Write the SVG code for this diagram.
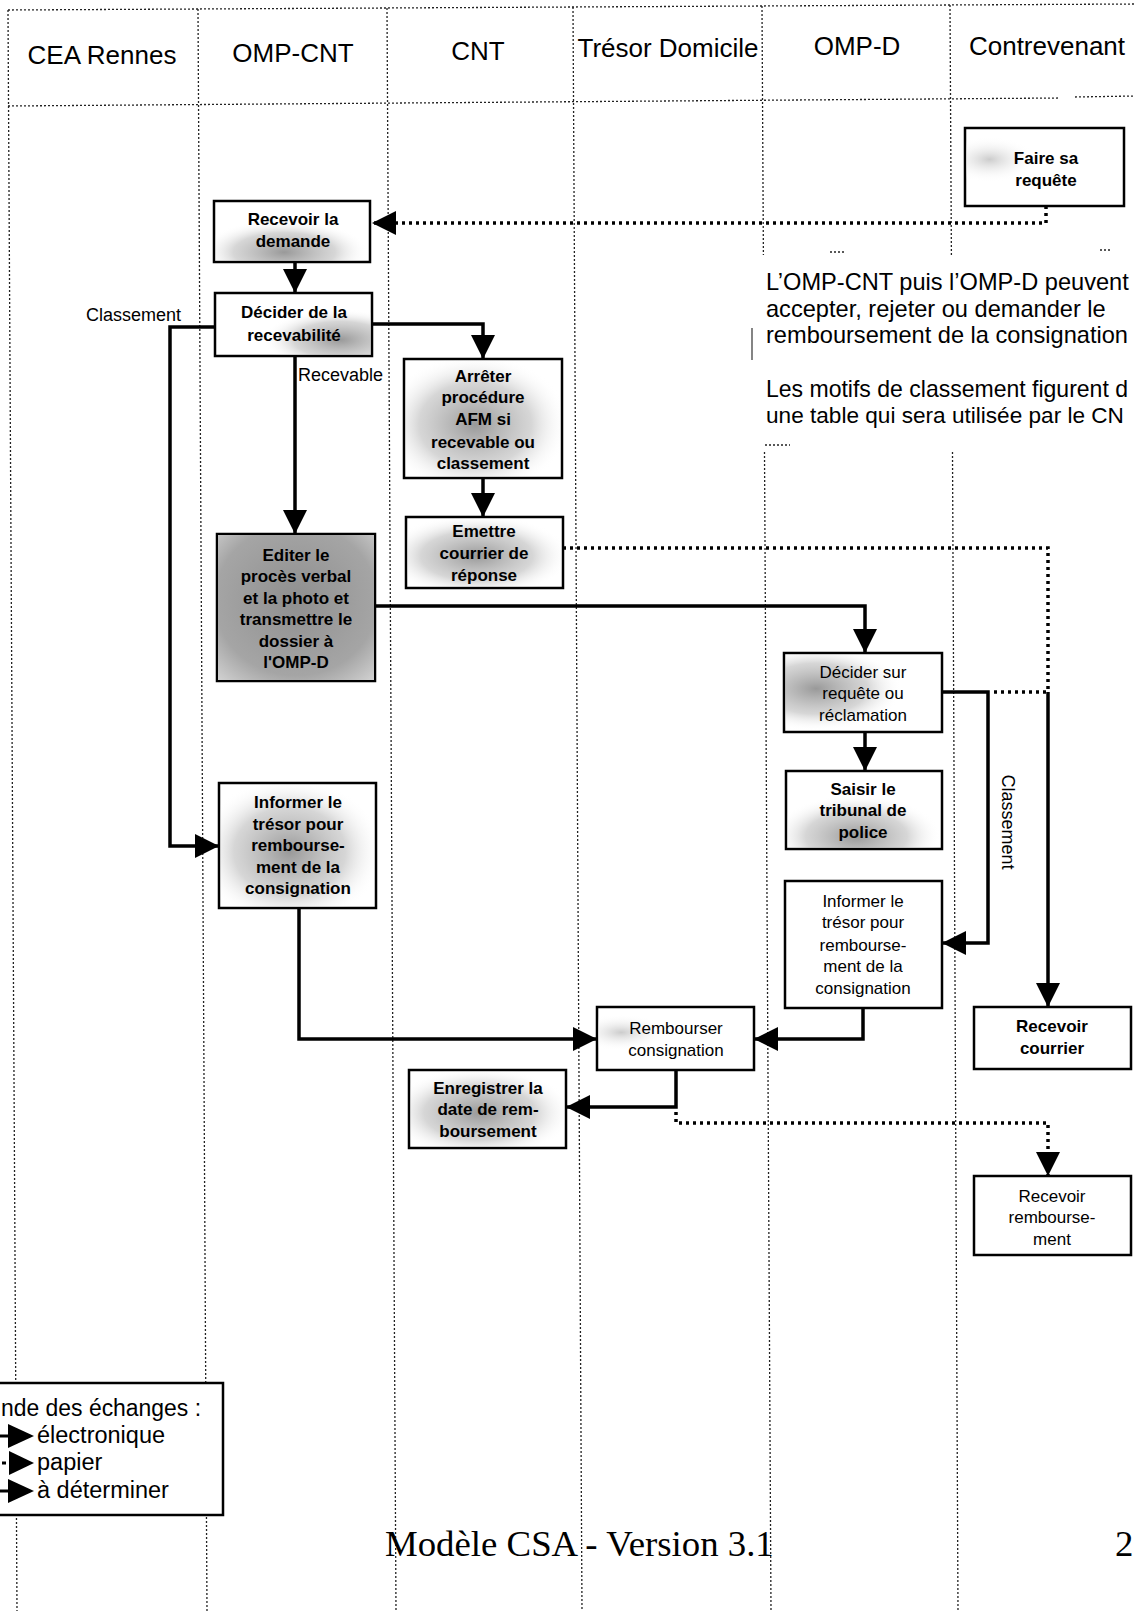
<svg xmlns="http://www.w3.org/2000/svg" width="1135" height="1611" viewBox="0 0 1135 1611">
<style>
.lane{stroke:#222;stroke-width:1.3;stroke-dasharray:2 2;fill:none}
.box{fill:#fff;stroke:#000;stroke-width:2.5}
.t{font-family:"Liberation Sans",Arial,sans-serif;font-size:17px;text-anchor:middle;fill:#000}
.b{font-weight:bold}
.hdr{font-family:"Liberation Sans",Arial,sans-serif;font-size:26px;text-anchor:middle;fill:#000}
.lbl{font-family:"Liberation Sans",Arial,sans-serif;font-size:18px;fill:#000}
.note{font-family:"Liberation Sans",Arial,sans-serif;font-size:23.6px;fill:#000}
.leg{font-family:"Liberation Sans",Arial,sans-serif;font-size:23.5px;fill:#000}
.conn{stroke:#000;stroke-width:3.5;fill:none}
.dot{stroke:#000;stroke-width:3.5;stroke-dasharray:3 4;fill:none}
</style>
<defs>
<marker id="ah" markerUnits="userSpaceOnUse" markerWidth="26" markerHeight="26" refX="24" refY="12" orient="auto"><path d="M0,0 L24,12 L0,24 z" fill="#000"/></marker>
<radialGradient id="gBC" cx="0.45" cy="0.85" r="0.55"><stop offset="0" stop-color="#999"/><stop offset="0.6" stop-color="#bbb" stop-opacity="0.6"/><stop offset="1" stop-color="#fff" stop-opacity="0"/></radialGradient>
<radialGradient id="gBR" cx="0.8" cy="0.75" r="0.5"><stop offset="0" stop-color="#999"/><stop offset="0.6" stop-color="#bbb" stop-opacity="0.6"/><stop offset="1" stop-color="#fff" stop-opacity="0"/></radialGradient>
<radialGradient id="gC" cx="0.45" cy="0.55" r="0.6"><stop offset="0" stop-color="#999"/><stop offset="0.6" stop-color="#bbb" stop-opacity="0.6"/><stop offset="1" stop-color="#fff" stop-opacity="0"/></radialGradient>
<radialGradient id="gH" cx="0.5" cy="0.45" r="0.8"><stop offset="0" stop-color="#8f8f8f"/><stop offset="0.65" stop-color="#a5a5a5"/><stop offset="1" stop-color="#ddd"/></radialGradient>
<radialGradient id="gL" cx="0.2" cy="0.45" r="0.55"><stop offset="0" stop-color="#999"/><stop offset="0.6" stop-color="#bbb" stop-opacity="0.6"/><stop offset="1" stop-color="#fff" stop-opacity="0"/></radialGradient>
<radialGradient id="gS" cx="0.15" cy="0.4" r="0.3"><stop offset="0" stop-color="#ccc"/><stop offset="1" stop-color="#fff" stop-opacity="0"/></radialGradient>
</defs>

<g id="swimlanes">
<path class="lane" d="M8,10 L1135,4"/>
<path class="lane" d="M8,106 L1060,98 M1075,97 L1135,96"/>
<path class="lane" d="M8,10 L17,1611"/>
<path class="lane" d="M198,9 L207,1611"/>
<path class="lane" d="M387,8 L396,1611"/>
<path class="lane" d="M573,7 L582,1611"/>
<path class="lane" d="M762,6 L763.4,255 M764.5,452 L771,1611"/>
<path class="lane" d="M950,5 L951.4,255 M952.5,452 L958,1611"/>
<path class="lane" d="M830,252 L846,252 M1100,250 L1112,250 M765,445 L790,445"/>
<path d="M752,328 L752,360" stroke="#333" stroke-width="1.2"/>
<text class="hdr" x="102" y="64">CEA Rennes</text>
<text class="hdr" x="293" y="62">OMP-CNT</text>
<text class="hdr" x="478" y="60">CNT</text>
<text class="hdr" x="668" y="57">Trésor Domicile</text>
<text class="hdr" x="857" y="55">OMP-D</text>
<text class="hdr" x="1047" y="55">Contrevenant</text>
</g>

<g id="connectors">
<path class="dot" d="M1046,206 V223 H372" marker-end="url(#ah)"/>
<path class="conn" d="M295,262 V293" marker-end="url(#ah)"/>
<path class="conn" d="M372,324 H483 V359" marker-end="url(#ah)"/>
<path class="conn" d="M215,327 H170 V846 H219" marker-end="url(#ah)"/>
<path class="conn" d="M295,356 V534" marker-end="url(#ah)"/>
<path class="conn" d="M483,478 V517" marker-end="url(#ah)"/>
<path class="dot" d="M563,548 H1048 V692"/>
<path class="conn" d="M375,606 H865 V653" marker-end="url(#ah)"/>
<path class="conn" d="M865,732 V771" marker-end="url(#ah)"/>
<path class="conn" d="M942,692 H988 V943 H942" marker-end="url(#ah)"/>
<path class="dot" d="M994,692 H1048"/>
<path class="conn" d="M1048,692 V1007" marker-end="url(#ah)"/>
<path class="conn" d="M299,908 V1039 H597" marker-end="url(#ah)"/>
<path class="conn" d="M863,1008 V1039 H754" marker-end="url(#ah)"/>
<path class="conn" d="M676,1070 V1107 H566" marker-end="url(#ah)"/>
<path class="dot" d="M676,1112 V1123 H1048 V1176" marker-end="url(#ah)"/>
<text class="lbl" x="181" y="321" text-anchor="end">Classement</text>
<text class="lbl" x="298" y="381">Recevable</text>
<text class="lbl" transform="translate(1002,822) rotate(90)" text-anchor="middle">Classement</text>
</g>

<g id="n-faire">
<rect class="box" x="965" y="128" width="159" height="78"/>
<rect x="966" y="129" width="157" height="76" fill="url(#gS)"/>
<text class="t b" x="1046" y="164">Faire sa</text>
<text class="t b" x="1046" y="186">requête</text>
</g>

<g id="n-recevoir-demande">
<rect class="box" x="214" y="201" width="156" height="61"/>
<rect x="215" y="202" width="154" height="59" fill="url(#gBC)"/>
<text class="t b" x="293" y="225">Recevoir la</text>
<text class="t b" x="293" y="247">demande</text>
</g>

<g id="n-decider-recevabilite">
<rect class="box" x="215" y="293" width="157" height="63"/>
<rect x="216" y="294" width="155" height="61" fill="url(#gBR)"/>
<text class="t b" x="294" y="318">Décider de la</text>
<text class="t b" x="294" y="341">recevabilité</text>
</g>

<g id="n-arreter">
<rect class="box" x="404" y="359" width="158" height="119"/>
<rect x="405" y="360" width="156" height="117" fill="url(#gC)"/>
<text class="t b" x="483" y="382">Arrêter</text>
<text class="t b" x="483" y="403">procédure</text>
<text class="t b" x="483" y="425">AFM si</text>
<text class="t b" x="483" y="448">recevable ou</text>
<text class="t b" x="483" y="469">classement</text>
</g>

<g id="n-emettre">
<rect class="box" x="406" y="517" width="157" height="71"/>
<rect x="407" y="518" width="155" height="69" fill="url(#gC)"/>
<text class="t b" x="484" y="537">Emettre</text>
<text class="t b" x="484" y="559">courrier de</text>
<text class="t b" x="484" y="581">réponse</text>
</g>

<g id="n-editer">
<rect class="box" x="217" y="534" width="158" height="147"/>
<rect x="218" y="535" width="156" height="145" fill="url(#gH)"/>
<text class="t b" x="296" y="561">Editer le</text>
<text class="t b" x="296" y="582">procès verbal</text>
<text class="t b" x="296" y="604">et la photo et</text>
<text class="t b" x="296" y="625">transmettre le</text>
<text class="t b" x="296" y="647">dossier à</text>
<text class="t b" x="296" y="668">l'OMP-D</text>
</g>

<g id="n-decider-requete">
<rect class="box" x="784" y="653" width="158" height="79"/>
<rect x="785" y="654" width="156" height="77" fill="url(#gL)"/>
<text class="t" x="863" y="678">Décider sur</text>
<text class="t" x="863" y="699">requête ou</text>
<text class="t" x="863" y="721">réclamation</text>
</g>

<g id="n-saisir">
<rect class="box" x="786" y="771" width="156" height="78"/>
<rect x="787" y="772" width="154" height="76" fill="url(#gBC)"/>
<text class="t b" x="863" y="795">Saisir le</text>
<text class="t b" x="863" y="816">tribunal de</text>
<text class="t b" x="863" y="838">police</text>
</g>

<g id="n-informer-ompd">
<rect class="box" x="785" y="881" width="157" height="127"/>
<text class="t" x="863" y="907">Informer le</text>
<text class="t" x="863" y="928">trésor pour</text>
<text class="t" x="863" y="951">rembourse-</text>
<text class="t" x="863" y="972">ment de la</text>
<text class="t" x="863" y="994">consignation</text>
</g>

<g id="n-informer-ompcnt">
<rect class="box" x="219" y="783" width="157" height="125"/>
<rect x="220" y="784" width="155" height="123" fill="url(#gC)"/>
<text class="t b" x="298" y="808">Informer le</text>
<text class="t b" x="298" y="830">trésor pour</text>
<text class="t b" x="298" y="851">rembourse-</text>
<text class="t b" x="298" y="873">ment de la</text>
<text class="t b" x="298" y="894">consignation</text>
</g>

<g id="n-rembourser">
<rect class="box" x="597" y="1007" width="157" height="63"/>
<rect x="598" y="1008" width="155" height="61" fill="url(#gS)"/>
<text class="t" x="676" y="1034">Rembourser</text>
<text class="t" x="676" y="1056">consignation</text>
</g>

<g id="n-recevoir-courrier">
<rect class="box" x="974" y="1007" width="157" height="62"/>
<text class="t b" x="1052" y="1032">Recevoir</text>
<text class="t b" x="1052" y="1054">courrier</text>
</g>

<g id="n-enregistrer">
<rect class="box" x="409" y="1070" width="157" height="78"/>
<rect x="410" y="1071" width="155" height="76" fill="url(#gC)"/>
<text class="t b" x="488" y="1094">Enregistrer la</text>
<text class="t b" x="488" y="1115">date de rem-</text>
<text class="t b" x="488" y="1137">boursement</text>
</g>

<g id="n-recevoir-remboursement">
<rect class="box" x="974" y="1176" width="157" height="79"/>
<text class="t" x="1052" y="1202">Recevoir</text>
<text class="t" x="1052" y="1223">rembourse-</text>
<text class="t" x="1052" y="1245">ment</text>
</g>

<g id="note">
<text class="note" x="766" y="290">L’OMP-CNT puis l’OMP-D peuvent</text>
<text class="note" x="766" y="317">accepter, rejeter ou demander le</text>
<text class="note" x="766" y="343">remboursement de la consignation</text>
<text class="note" x="766" y="397" textLength="362" lengthAdjust="spacingAndGlyphs">Les motifs de classement figurent d</text>
<text class="note" x="766" y="423" style="font-size:22.6px">une table qui sera utilisée par le CN</text>
</g>

<g id="legend">
<rect x="-10" y="1383" width="233" height="132" fill="#fff" stroke="#000" stroke-width="2.5"/>
<text class="leg" x="1" y="1416" textLength="200" lengthAdjust="spacingAndGlyphs">nde des échanges :</text>
<path d="M0,1436 H12" stroke="#000" stroke-width="3"/>
<path d="M8,1424 L34,1436 L8,1448 z" fill="#000"/>
<path d="M2,1463 H6" stroke="#000" stroke-width="3"/>
<path d="M9,1451 L34,1463 L9,1475 z" fill="#000"/>
<path d="M0,1491 H12" stroke="#000" stroke-width="3"/>
<path d="M8,1479 L34,1491 L8,1503 z" fill="#000"/>
<text class="leg" x="37" y="1443">électronique</text>
<text class="leg" x="37" y="1470">papier</text>
<text class="leg" x="37" y="1498">à déterminer</text>
</g>

<g id="footer">
<text x="385" y="1556" font-family="'Liberation Serif','Times New Roman',serif" font-size="36.8" fill="#000">Modèle CSA - Version 3.1</text>
<text x="1115" y="1556" font-family="'Liberation Serif','Times New Roman',serif" font-size="36.8" fill="#000">2</text>
</g>
</svg>
